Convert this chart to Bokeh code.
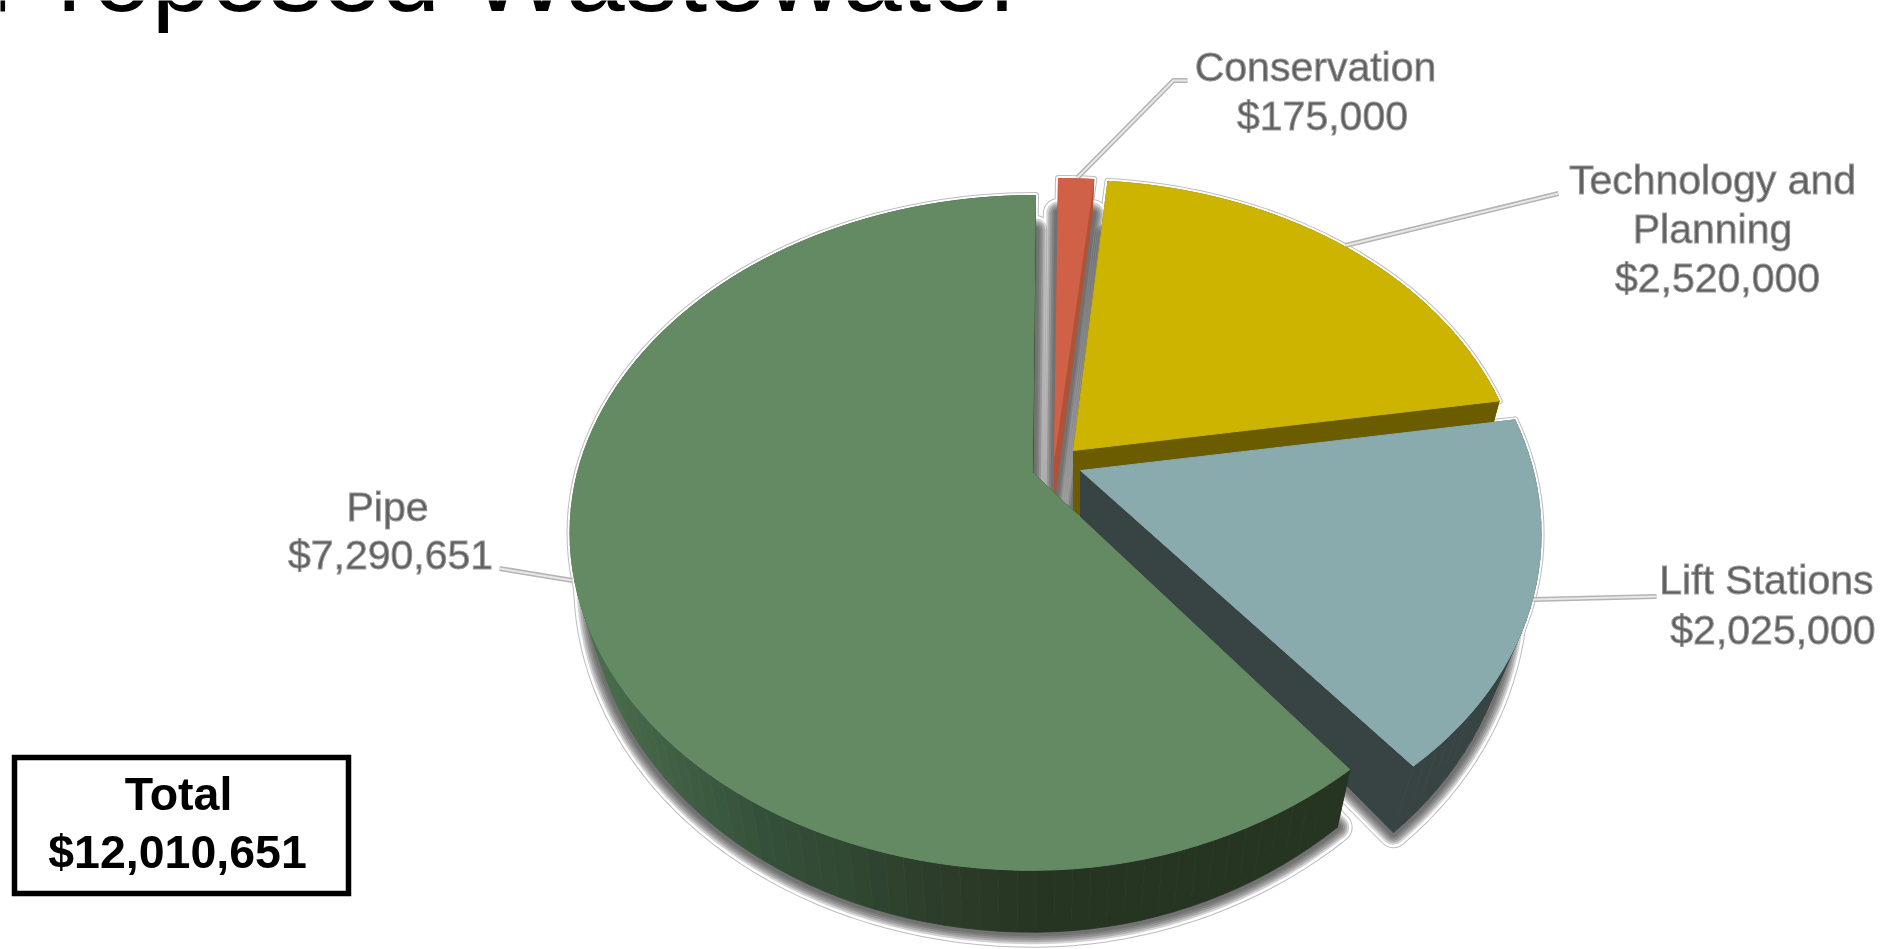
import math
from bokeh.plotting import figure
from bokeh.embed import file_html
from bokeh.resources import INLINE
from bokeh.core.properties import value as fixed
from bokeh.models import ColumnDataSource

# ---- data, clockwise from twelve o'clock
categories = ["Conservation", "Technology and\nPlanning", "Lift Stations", "Pipe"]
amounts = [175000, 2520000, 2025000, 7290651]
amount_labels = ["$175,000", "$2,520,000", "$2,025,000", "$7,290,651"]
total_label = ["Total", "$12,010,651"]
title_text = ["Proposed Wastewater"]

# ---- styles
top_colors = ["#d16146", "#ccb400", "#8aabad", "#648a63"]
wall_colors = ["#ad5338", "#6b5c00", "#384444", "#263522"]
apex_x = [1054, 1073, 1080, 1032]
apex_y = [455, 450, 470, 472]
radius_scale = [1.0, 0.975, 0.995, 1.0]
lean_back = [4, 0, 0, 3]
lean_front = [0, 0, -13, 32]
shrink = [0.96, 0.96, 0.94, 0.96]
depth_a = [73, 73, 120, 73]
depth_b = [27, 8, 73, 27]
R, RK, E = 455.0, 326.6, 0.179

W, H = 1885, 949
p = figure(width=W, height=H, x_range=(0, W), y_range=(H, 0), output_backend="svg",
           toolbar_location=None, x_axis_type=None, y_axis_type=None,
           min_border=0, outline_line_color=None, background_fill_color="white",
           styles={"position": "fixed", "left": "0px", "top": "0px"})
p.xgrid.visible = False
p.ygrid.visible = False


def project(i, theta):
    X, Y = math.sin(theta), math.cos(theta)
    k = 1.0 / (1.0 + E * Y)
    r = radius_scale[i]
    if Y > 0:
        lean = lean_back[i] * Y
    else:
        lean = -lean_front[i] * max(X, 0.0) * Y * Y
    return apex_x[i] + R * r * X * k + lean, apex_y[i] - RK * r * Y * k, k


def lower(i, pt):
    x, y, k = pt
    return apex_x[i] + (x - apex_x[i]) * shrink[i], y + depth_a[i] * k - depth_b[i]


def mix(a, b, t):
    ca = [int(a[j:j + 2], 16) for j in (1, 3, 5)]
    cb = [int(b[j:j + 2], 16) for j in (1, 3, 5)]
    return "#%02x%02x%02x" % tuple(round(u + (v - u) * t) for u, v in zip(ca, cb))


def pipe_wall_color(x):
    stops = [(585, "#4a6e4c"), (760, "#35503a"), (960, "#2b3b28"), (1040, "#263522")]
    if x <= stops[0][0]:
        return stops[0][1]
    for (x0, c0), (x1, c1) in zip(stops, stops[1:]):
        if x <= x1:
            return mix(c0, c1, (x - x0) / (x1 - x0))
    return stops[-1][1]


total = sum(amounts)
spans = []
acc = 0.0
for a in amounts:
    spans.append((acc / total * 2 * math.pi, (acc + a) / total * 2 * math.pi))
    acc += a

shapes = []
for i, (t0, t1) in enumerate(spans):
    n = max(4, int((t1 - t0) / math.radians(2)))
    thetas = [t0 + (t1 - t0) * j / n for j in range(n + 1)]
    rim = [project(i, t) for t in thetas]
    rim_low = [lower(i, q) for q in rim]
    apex = (apex_x[i], apex_y[i], 1.0)
    apex_low = lower(i, apex)
    quads_x, quads_y, quads_c = [], [], []
    for j in range(n):
        quads_x.append([rim[j][0], rim[j + 1][0], rim_low[j + 1][0], rim_low[j][0]])
        quads_y.append([rim[j][1], rim[j + 1][1], rim_low[j + 1][1], rim_low[j][1]])
        xm = (rim[j][0] + rim[j + 1][0]) / 2
        quads_c.append(pipe_wall_color(xm) if i == 3 else wall_colors[i])
    # the two cut faces
    for q, ql in ((rim[0], rim_low[0]), (rim[-1], rim_low[-1])):
        quads_x.append([apex[0], q[0], ql[0], apex_low[0]])
        quads_y.append([apex[1], q[1], ql[1], apex_low[1]])
        quads_c.append(wall_colors[i])
    shapes.append(dict(
        top_x=[apex[0]] + [q[0] for q in rim] + [apex[0]],
        top_y=[apex[1]] + [q[1] for q in rim] + [apex[1]],
        low_x=[apex_low[0]] + [q[0] for q in rim_low] + [apex_low[0]],
        low_y=[apex_low[1]] + [q[1] for q in rim_low] + [apex_low[1]],
        qx=quads_x, qy=quads_y, qc=quads_c))

# halo: a thin grey contour around the whole cut-out
for s in shapes:
    p.line(s["low_x"], s["low_y"], line_color="#bdbdbd", line_width=31, line_join="round")
    p.line(s["top_x"], s["top_y"], line_color="#bdbdbd", line_width=7, line_join="round")
for s in shapes:
    p.line(s["low_x"], s["low_y"], line_color="white", line_width=29, line_join="round")
    p.line(s["top_x"], s["top_y"], line_color="white", line_width=5, line_join="round")

# leader lines
leader_x = [[1187, 1173, 1077], [1558, 1345], [1656, 1533], [499, 572]]
leader_y = [[80, 80, 177], [193, 245], [596, 599], [568, 580]]
for lx, ly in zip(leader_x, leader_y):
    p.line(lx, ly, line_color="#b4b4b4", line_width=5)
    p.line(lx, ly, line_color="#e8e8e8", line_width=2)

# soft shadows below the walls
for i in (0, 1, 2, 3):
    s = shapes[i]
    for w in (24, 20, 16, 12, 8):
        p.line(s["low_x"], s["low_y"], line_color="#444444", line_alpha=0.24, line_width=w, line_join="round")

# slices, back to front
for i in range(4):
    s = shapes[i]
    src = ColumnDataSource(dict(xs=s["qx"], ys=s["qy"], c=s["qc"]))
    p.patches("xs", "ys", source=src, fill_color="c", line_color="c", line_width=0.8)
    p.patch(s["top_x"], s["top_y"], fill_color=top_colors[i], line_color=top_colors[i], line_width=1)

# total box
p.quad(left=[14], right=[348], top=[757], bottom=[893], fill_color="white", line_color="black",
       line_width=5.5, line_join="miter")


def label(lines, xs, baselines, color, weight="normal", align="center", outline="#9a9a9a"):
    p.text(x=xs, y=baselines, text=lines, text_color=color, text_font=fixed("Liberation Sans"),
           text_font_size=fixed("41px"), text_font_style=weight, text_align=align,
           text_baseline="middle", text_outline_color=outline)


tech_lines = categories[1].split("\n")
label([categories[0], amount_labels[0]], [1315, 1322], [66, 115], "#5f5f5f")
label(tech_lines + [amount_labels[1]], [1712, 1712, 1717], [179, 228, 277], "#5f5f5f")
label([categories[2], amount_labels[2]], [1873, 1875], [579, 629], "#5f5f5f", align="right")
label([categories[3], amount_labels[3]], [387, 390], [506, 554], "#5f5f5f")

p.text(x=[178, 177], y=[793, 851], text=total_label, text_color="black", text_font=fixed("Liberation Sans"),
       text_font_size=fixed("46.5px"), text_font_style="bold", text_align="center", text_baseline="middle")

p.text(x=[-14], y=[-27], text=title_text, text_color="black", text_font=fixed("Liberation Sans"),
       text_font_size=fixed("106px"), text_align="left", text_baseline="middle")

open("out.html", "w").write(file_html(p, INLINE))
